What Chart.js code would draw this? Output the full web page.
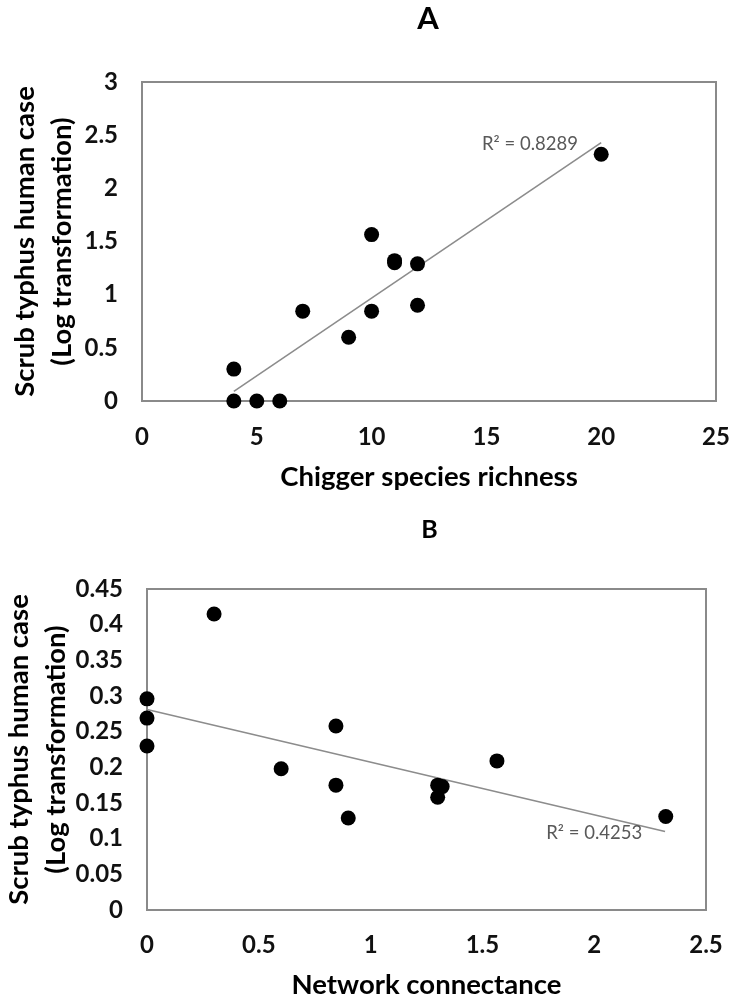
<!DOCTYPE html>
<html>
<head>
<meta charset="utf-8">
<script src="https://cdn.jsdelivr.net/npm/chart.js@4.4.1/dist/chart.umd.min.js"></script>
<style>
  html, body { margin: 0; padding: 0; background: #fff; }
  #wrapA { position: absolute; left: 0; top: 0; width: 733px; height: 510px; }
  #wrapB { position: absolute; left: 0; top: 510px; width: 733px; height: 492px; }
</style>
</head>
<body>
<div id="wrapA"><canvas id="chartA" width="733" height="510"></canvas></div>
<div id="wrapB"><canvas id="chartB" width="733" height="492"></canvas></div>
<script>
// ---------- Panel A data ----------
const speciesRichness = [4, 5, 6, 4, 7, 9, 10, 10, 11, 11, 12, 12, 20];
const humanCaseLogA   = [0, 0, 0, 0.30, 0.845, 0.60, 0.845, 1.565, 1.30, 1.32, 1.29, 0.90, 2.32];
const trendAx = [4, 20];
const trendAy = [0.09, 2.43];
const xTicksA = [0, 5, 10, 15, 20, 25];
const xTickLabelsA = ['0', '5', '10', '15', '20', '25'];
const yTicksA = [0, 0.5, 1, 1.5, 2, 2.5, 3];
const yTickLabelsA = ['0', '0.5', '1', '1.5', '2', '2.5', '3'];
const r2TextA = 'R² = 0.8289';
const r2AtA = [16.9, 2.415];

// ---------- Panel B data ----------
const connectanceX = [0, 0, 0, 0.30, 0.60, 0.845, 0.845, 0.90, 1.30, 1.32, 1.30, 1.565, 2.32];
const humanCaseLogB = [0.296, 0.269, 0.230, 0.415, 0.198, 0.258, 0.175, 0.129, 0.175, 0.173, 0.158, 0.209, 0.131];
const trendBx = [0, 2.317];
const trendBy = [0.281, 0.110];
const xTicksB = [0, 0.5, 1, 1.5, 2, 2.5];
const xTickLabelsB = ['0', '0.5', '1', '1.5', '2', '2.5'];
const yTicksB = [0, 0.05, 0.1, 0.15, 0.2, 0.25, 0.3, 0.35, 0.4, 0.45];
const yTickLabelsB = ['0', '0.05', '0.1', '0.15', '0.2', '0.25', '0.3', '0.35', '0.4', '0.45'];
const r2TextB = 'R² = 0.4253';
const r2AtB = [2.0, 0.1085];

const yTitle = ['Scrub typhus human case', '(Log transformation)'];

const FONT = 'Lato, "Open Sans", sans-serif';

const framePlugin = {
  id: 'frame',
  beforeDatasetsDraw(chart, args, o) {
    const { ctx, chartArea: a } = chart;
    ctx.save();
    ctx.strokeStyle = '#8a8a8a';
    ctx.lineWidth = 2;
    ctx.strokeRect(a.left, a.top, a.right - a.left, a.bottom - a.top);
    ctx.restore();
  },
  afterDraw(chart, args, o) {
    const { ctx, chartArea: a, scales } = chart;
    ctx.save();
    ctx.textAlign = 'center';
    ctx.textBaseline = 'middle';
    ctx.fillStyle = '#000';
    ctx.font = 'bold ' + o.titleSize + 'px ' + FONT;
    ctx.fillText(o.title, (a.left + a.right) / 2 + o.titleDx, o.titleY);
    ctx.fillStyle = '#595959';
    ctx.font = '18.5px ' + FONT;
    ctx.fillText(o.note, scales.x.getPixelForValue(o.noteAt[0]), scales.y.getPixelForValue(o.noteAt[1]));
    ctx.restore();
  }
};

function makeChart(id, c) {
  const tickFont = { family: FONT, size: 24, weight: 'bold' };
  return new Chart(document.getElementById(id), {
    type: 'scatter',
    data: {
      datasets: [
        {
          data: c.xs.map((x, i) => ({ x: x, y: c.ys[i] })),
          backgroundColor: '#000', borderColor: '#000', borderWidth: 0,
          pointRadius: 7.5, pointHoverRadius: 7.5, clip: false, order: 0
        },
        {
          data: c.tx.map((x, i) => ({ x: x, y: c.ty[i] })),
          showLine: true, borderColor: '#8c8c8c', borderWidth: 1.6,
          pointRadius: 0, fill: false, clip: false, order: 1
        }
      ]
    },
    options: {
      responsive: false, animation: false, devicePixelRatio: 1,
      layout: { padding: { top: c.padTop, right: c.padRight, left: 0, bottom: 0 } },
      plugins: {
        legend: { display: false }, tooltip: { enabled: false },
        frame: { title: c.title, titleSize: c.titleSize, titleY: c.titleY, titleDx: c.titleDx, note: c.note, noteAt: c.noteAt }
      },
      scales: {
        x: {
          type: 'linear', min: c.xTicks[0], max: c.xTicks[c.xTicks.length - 1],
          afterBuildTicks: s => { s.ticks = c.xTicks.map(v => ({ value: v })); },
          ticks: { callback: (v, i) => c.xLabels[i], font: tickFont, color: '#111', padding: c.xPad, autoSkip: false, maxRotation: 0 },
          grid: { display: false, drawTicks: false }, border: { display: false },
          title: { display: true, text: c.xTitle, color: '#000', font: { family: FONT, size: 27.5, weight: 'bold', lineHeight: 1.2 }, padding: { top: 0, bottom: c.xTitlePb } },
          afterFit: s => { s.height = c.xH; s.paddingLeft = 0; s.paddingRight = 0; }
        },
        y: {
          type: 'linear', min: c.yTicks[0], max: c.yTicks[c.yTicks.length - 1],
          afterBuildTicks: s => { s.ticks = c.yTicks.map(v => ({ value: v })); },
          ticks: { callback: (v, i) => c.yLabels[i], font: tickFont, color: '#111', padding: 24, autoSkip: false },
          grid: { display: false, drawTicks: false }, border: { display: false },
          title: { display: true, text: yTitle, color: '#000', font: { family: FONT, size: 27.5, weight: 'bold', lineHeight: 1.36 }, padding: { top: c.yTitlePt, bottom: 0 } },
          afterFit: s => { s.width = c.yW; s.paddingTop = 0; s.paddingBottom = 0; }
        }
      }
    },
    plugins: [framePlugin]
  });
}

makeChart('chartA', {
  xs: speciesRichness, ys: humanCaseLogA, tx: trendAx, ty: trendAy,
  xTicks: xTicksA, xLabels: xTickLabelsA, yTicks: yTicksA, yLabels: yTickLabelsA,
  xTitle: 'Chigger species richness',
  padTop: 82, padRight: 17, xH: 109, yW: 142, xPad: 22, xTitlePb: 16, yTitlePt: 6,
  title: 'A', titleSize: 31, titleY: 19, titleDx: -1,
  note: r2TextA, noteAt: r2AtA
});

makeChart('chartB', {
  xs: connectanceX, ys: humanCaseLogB, tx: trendBx, ty: trendBy,
  xTicks: xTicksB, xLabels: xTickLabelsB, yTicks: yTicksB, yLabels: yTickLabelsB,
  xTitle: 'Network connectance',
  padTop: 79, padRight: 27, xH: 92, yW: 147, xPad: 20.5, xTitlePb: 0, yTitlePt: 0,
  title: 'B', titleSize: 25, titleY: 20, titleDx: 3,
  note: r2TextB, noteAt: r2AtB
});
</script>
</body>
</html>
